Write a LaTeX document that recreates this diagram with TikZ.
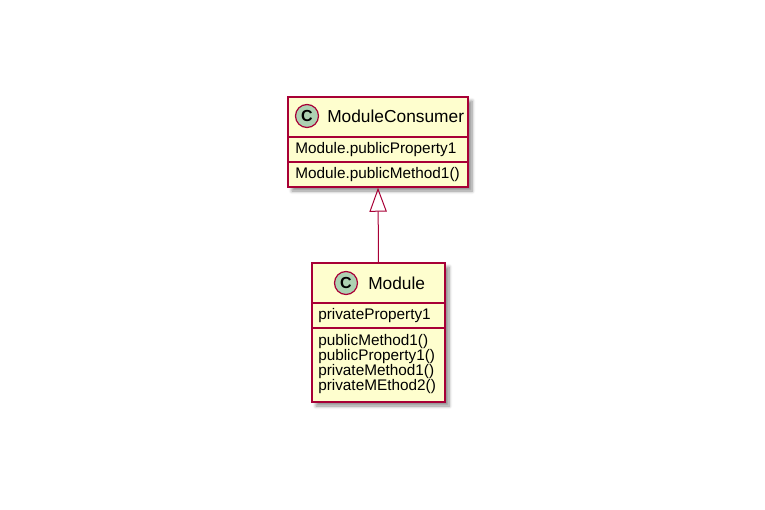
\documentclass[tikz,border=0pt]{standalone}
\usepackage{fontspec}
\setmainfont{Liberation Sans}
\usetikzlibrary{arrows.meta,shadows.blur}

\definecolor{umlfill}{HTML}{FEFECE}
\definecolor{umlborder}{HTML}{A80036}
\definecolor{umlcircle}{HTML}{ADD1B2}

\begin{document}
\begin{tikzpicture}[x=0.75pt,y=-0.75pt,
    classbox/.style={draw=umlborder, fill=umlfill, line width=1.1pt, inner sep=0pt,
        blur shadow={shadow xshift=3pt, shadow yshift=-3pt, shadow blur radius=2.5pt,
            shadow blur steps=6, shadow opacity=45}},
    classmark/.style={circle, draw=umlborder, fill=umlcircle, line width=0.9pt,
        minimum size=17.25pt, inner sep=0pt, font=\fontsize{12}{13}\bfseries},
    classname/.style={anchor=west, inner sep=0pt, font=\fontsize{13}{15}\selectfont},
    member/.style={anchor=west, inner sep=0pt, font=\fontsize{11.5}{13}\selectfont},
    separator/.style={draw=umlborder, line width=0.9pt},
    extends/.style={draw=umlborder, line width=0.75pt, -{Triangle[open, length=18pt, width=13pt]}}]

\useasboundingbox (0,0) rectangle (765,510);

% consumer class
\node[classbox, minimum width=135pt, minimum height=67.5pt] (consumer) at (378,142) {};
\draw[separator] (288,137) -- (468,137);
\draw[separator] (288,162) -- (468,162);
\node[classmark] (consumermark) at (307,116) {C};
\node[classname] (consumername) at (327,116) {ModuleConsumer};
\node[member] (consumerprop) at (295,150) {Module.publicProperty1};
\node[member] (consumermethod) at (295,175) {Module.publicMethod1()};

% module class
\node[classbox, minimum width=99.75pt, minimum height=104.25pt] (module) at (378.5,332.5) {};
\draw[separator] (312,303) -- (445,303);
\draw[separator] (312,328) -- (445,328);
\node[classmark] (modulemark) at (346,283) {C};
\node[classname] (modulename) at (368,283) {Module};
\node[member] (moduleprop) at (318,316) {privateProperty1};
\foreach \methody/\methodname [count=\methodi] in {342/publicMethod1(), 357/publicProperty1(), 372/privateMethod1(), 387/privateMEthod2()}
    \node[member] (modulemethod\methodi) at (318,\methody) {\methodname};

\draw[extends] (module.north) -- (consumer.south);

\end{tikzpicture}
\end{document}
